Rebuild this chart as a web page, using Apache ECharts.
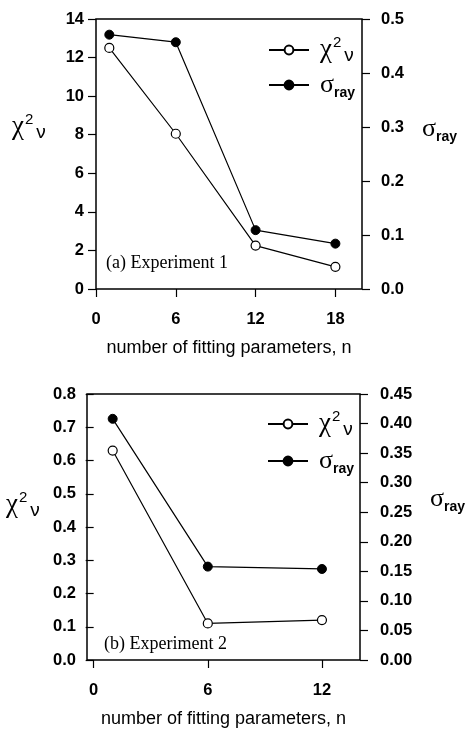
<!DOCTYPE html>
<html>
<head>
<meta charset="utf-8">
<script src="https://cdn.jsdelivr.net/npm/echarts@6/dist/echarts.min.js"></script>
<style>
  html, body { margin: 0; padding: 0; background: #fff; }
  #chart { width: 467px; height: 729px; }
</style>
</head>
<body>
<div id="chart"></div>
<script>
// (a) Experiment 1
const nA = [1, 6, 12, 18];
const chiA = [12.5, 8.05, 2.25, 1.15];
const sigmaA = [0.471, 0.457, 0.109, 0.084];
const xTicksA = [0, 6, 12, 18];
// (b) Experiment 2
const nB = [1, 6, 12];
const chiB = [0.63, 0.11, 0.12];
const sigmaB = [0.408, 0.158, 0.154];
const xTicksB = [0, 6, 12];

const chart = echarts.init(document.getElementById('chart'));

const sans = 'Liberation Sans';
const serif = 'Liberation Serif';

// 刻度文字样式
const tickLabel = { color: '#000', fontFamily: sans, fontWeight: 'bold', fontSize: 16.5 };
const tick = { show: true, inside: false, length: 8, lineStyle: { color: '#000', width: 1.2 } };

// χ²ν 与 σray 的富文本
const rich = {
  chi: { fontFamily: serif, fontSize: 27, color: '#000', verticalAlign: 'middle', lineHeight: 30 },
  sup: { fontFamily: sans, fontSize: 15, color: '#000', verticalAlign: 'top', lineHeight: 30, padding: [0, 3, 0, 1] },
  nu: { fontFamily: sans, fontSize: 19, color: '#000', verticalAlign: 'bottom', lineHeight: 30 },
  sig: { fontFamily: serif, fontSize: 26, color: '#000', verticalAlign: 'middle', lineHeight: 30 },
  ray: { fontFamily: sans, fontWeight: 'bold', fontSize: 14, color: '#000', verticalAlign: 'bottom', lineHeight: 30 }
};
const chiText = '{chi|χ}{sup|2}{nu|ν}';
const sigText = '{sig|σ}{ray|ray}';

function pairs(xs, ys) {
  return xs.map((x, i) => [x, ys[i]]);
}

function xAxis(grid, min, max, custom) {
  return {
    type: 'value', gridIndex: grid, min: min, max: max,
    splitLine: { show: false },
    axisLine: { show: false },
    axisTick: Object.assign({ customValues: custom }, tick),
    axisLabel: Object.assign({ margin: 22, customValues: custom }, tickLabel),
    name: 'number of fitting parameters, n',
    nameLocation: 'middle', nameGap: 50,
    nameTextStyle: { color: '#000', fontFamily: sans, fontSize: 18 }
  };
}

function yAxis(grid, pos, max, interval, digits, margin) {
  return {
    type: 'value', gridIndex: grid, position: pos, min: 0, max: max, interval: interval,
    splitLine: { show: false },
    axisLine: { show: false },
    axisTick: tick,
    axisLabel: Object.assign({ margin: margin, formatter: v => v.toFixed(digits) }, tickLabel)
  };
}

function lineSeries(name, xi, yi, data, open) {
  return {
    name: name, type: 'line', xAxisIndex: xi, yAxisIndex: yi,
    data: data, symbol: 'circle', symbolSize: 9,
    lineStyle: { color: '#000', width: 1.2 },
    itemStyle: open ? { color: '#fff', borderColor: '#000', borderWidth: 1.2 } : { color: '#000', borderColor: '#000', borderWidth: 1 },
    z: open ? 3 : 2
  };
}

function legend(left, top, gap) {
  return {
    data: ['chi', 'sigma'], orient: 'vertical', left: left, top: top,
    itemWidth: 40, itemHeight: 11, itemGap: gap,
    formatter: name => name === 'chi' ? chiText : sigText,
    textStyle: { padding: [0, 0, 0, 6], rich: rich },
    selectedMode: false
  };
}

const option = {
  backgroundColor: '#fff',
  animation: false,
  grid: [
    { left: 96, top: 19, width: 266, height: 270, show: true, borderColor: '#000', borderWidth: 1.5, backgroundColor: 'transparent' },
    { left: 87, top: 394, width: 273, height: 270, show: true, borderColor: '#000', borderWidth: 1.5, backgroundColor: 'transparent' }
  ],
  xAxis: [
    xAxis(0, 0, 20, xTicksA),
    xAxis(1, -0.35, 14, xTicksB)
  ],
  yAxis: [
    yAxis(0, 'left', 14, 2, 0, 12),
    yAxis(0, 'right', 0.5, 0.1, 1, 19),
    yAxis(1, 'left', 0.8, 0.1, 1, 11),
    yAxis(1, 'right', 0.45, 0.05, 2, 20)
  ],
  legend: [legend(263, 30, 7), legend(262, 404, 9)],
  graphic: [
    { type: 'text', left: 12, top: 112, style: { text: chiText, rich: rich } },
    { type: 'text', left: 422, top: 116, style: { text: sigText, rich: rich } },
    { type: 'text', left: 6, top: 490, style: { text: chiText, rich: rich } },
    { type: 'text', left: 430, top: 486, style: { text: sigText, rich: rich } },
    { type: 'text', left: 106, top: 254, style: { text: '(a) Experiment 1', fontFamily: serif, fontSize: 18, fill: '#000' } },
    { type: 'text', left: 104, top: 635, style: { text: '(b) Experiment 2', fontFamily: serif, fontSize: 18, fill: '#000' } }
  ],
  series: [
    lineSeries('sigma', 0, 1, pairs(nA, sigmaA), false),
    lineSeries('chi', 0, 0, pairs(nA, chiA), true),
    lineSeries('sigma', 1, 3, pairs(nB, sigmaB), false),
    lineSeries('chi', 1, 2, pairs(nB, chiB), true)
  ]
};

chart.setOption(option);
</script>
</body>
</html>
